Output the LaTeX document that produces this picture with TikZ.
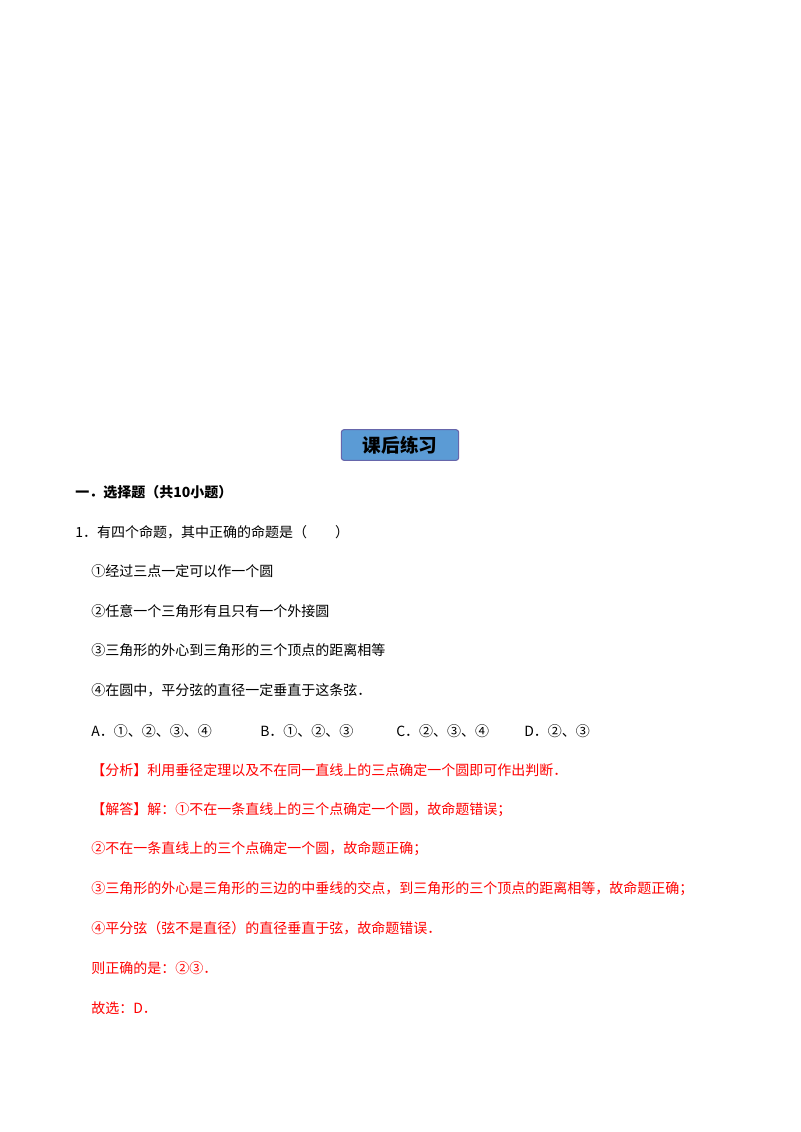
\documentclass[tikz,border=0pt]{standalone}
\usepackage{fontspec}
\newfontfamily\cjk{Noto Sans CJK SC}
\setmainfont{Liberation Serif}
\begin{document}
\begin{tikzpicture}[x=0.75pt,y=-0.75pt,
 t/.style={anchor=west,inner sep=0pt,font=\cjk\fontsize{10.5pt}{12pt}\selectfont},
 r/.style={t,text=red}]
\useasboundingbox (0,0) rectangle (800,1132);
\fill[white] (0,0) rectangle (800,1132);
\node[draw=blue!45!black!60,fill={rgb,255:red,91;green,155;blue,213},rounded corners=2pt,line width=0.8pt,minimum width=88pt,minimum height=23pt,font=\cjk\bfseries\fontsize{14pt}{16pt}\selectfont] (hd) at (400,445) {课后练习};
\node[t,font=\cjk\bfseries\fontsize{10.5pt}{12pt}\selectfont] (s) at (75,492) {一．选择题（共10小题）};
\node[t] (q) at (75,532) {1．有四个命题，其中正确的命题是（\hspace{2em}）};
\node[t] (a1) at (91,571) {①经过三点一定可以作一个圆};
\node[t] (a2) at (91,611) {②任意一个三角形有且只有一个外接圆};
\node[t] (a3) at (91,650) {③三角形的外心到三角形的三个顶点的距离相等};
\node[t] (a4) at (91,690) {④在圆中，平分弦的直径一定垂直于这条弦．};
\node[t] (oa) at (91,731) {A．①、②、③、④};
\node[t] (ob) at (260,731) {B．①、②、③};
\node[t] (oc) at (396,731) {C．②、③、④};
\node[t] (od) at (524,731) {D．②、③};
\node[r] (f1) at (91,770) {【分析】利用垂径定理以及不在同一直线上的三点确定一个圆即可作出判断．};
\node[r] (f2) at (91,810) {【解答】解：①不在一条直线上的三个点确定一个圆，故命题错误；};
\node[r] (f3) at (91,849) {②不在一条直线上的三个点确定一个圆，故命题正确；};
\node[r] (f4) at (91,889) {③三角形的外心是三角形的三边的中垂线的交点，到三角形的三个顶点的距离相等，故命题正确；};
\node[r] (f5) at (91,928) {④平分弦（弦不是直径）的直径垂直于弦，故命题错误．};
\node[r] (f6) at (91,968) {则正确的是：②③．};
\node[r] (f7) at (91,1008) {故选：\textit{D}．};
\end{tikzpicture}
\end{document}
